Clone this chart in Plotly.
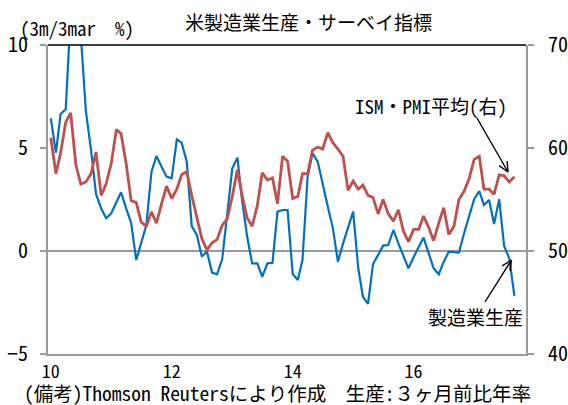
import math
import pandas as pd
import plotly.graph_objects as go

# ---------------- data ----------------
months = pd.date_range("2010-01-01", periods=93, freq="MS")

production = [
    6.44, 4.77, 6.65, 6.88, 11.5, 12.3, 10.5, 6.76, 4.9, 2.77,
    2.07, 1.59, 1.83, 2.39, 2.85, 2.07, 1.37, -0.44, 0.37, 1.26,
    3.85, 4.61, 4.09, 3.61, 3.53, 5.42, 5.26, 4.34, 1.21, 0.78,
    -0.27, -0.03, -1.05, -1.13, -0.40, 1.84, 4.01, 4.53, 2.48, 0.69,
    -0.60, -0.60, -1.25, -0.60, -0.57, 1.91, 1.99, 1.99, -1.12, -1.41,
    -0.44, 3.61, 4.74, 4.34, 3.20, 2.15, 1.10, -0.52, 0.37, 1.18,
    1.91, -0.84, -2.22, -2.57, -0.63, -0.19, 0.26, 0.29, 1.02, 0.37,
    -0.27, -0.84, -0.30, 0.20, 0.65, -0.10, -0.84, -1.13, -0.52, -0.03,
    -0.05, -0.08, 0.86, 1.70, 2.51, 2.91, 2.23, 2.48, 1.31, 2.51,
    0.24, -0.36, -2.18,
]

ism_pmi = [
    61.0, 57.5, 59.5, 62.5, 63.4, 58.4, 56.5, 56.7, 57.5, 59.6,
    55.4, 56.5, 58.5, 61.8, 61.4, 58.5, 54.9, 54.7, 52.8, 52.4,
    53.8, 52.7, 54.6, 56.3, 55.1, 56.0, 57.4, 57.7, 55.4, 53.2,
    51.2, 50.1, 50.8, 51.1, 52.5, 53.1, 55.3, 57.9, 55.4, 53.2,
    52.4, 54.4, 57.6, 56.9, 57.1, 54.6, 59.2, 58.7, 55.1, 55.3,
    57.5, 57.5, 59.8, 60.1, 59.9, 61.5, 60.5, 59.9, 59.2, 55.9,
    56.8, 56.0, 56.4, 55.4, 55.2, 53.6, 55.0, 53.6, 52.9, 54.0,
    51.9, 50.9, 52.1, 52.1, 53.4, 52.3, 51.0, 52.7, 54.2, 51.6,
    52.4, 55.0, 55.8, 57.0, 58.9, 59.2, 56.0, 56.0, 55.5, 57.4,
    57.3, 56.7, 57.2,
]

x_tick_vals = ["2010-01-01", "2012-01-01", "2014-01-01", "2016-01-01"]
x_tick_text = ["10", "12", "14", "16"]
left_ticks = [-5, 0, 5, 10]
right_ticks = [40, 50, 60, 70]

# ---------------- styling ----------------
FONT = "Noto Sans Mono CJK JP, Noto Sans CJK JP, sans-serif"
W, H = 568, 405
L, R, T, B = 48, 42, 45, 51
PW, PH = W - L - R, H - T - B
GRAY = "#9a9a9a"


def paper(px, py):
    return (px - L) / PW, (H - B - py) / PH


fig = go.Figure()
fig.add_trace(go.Scatter(x=months, y=production, mode="lines",
                         line=dict(color="#0070C0", width=2.2),
                         yaxis="y", name="製造業生産"))
fig.add_trace(go.Scatter(x=months, y=ism_pmi, mode="lines",
                         line=dict(color="#C0504D", width=2.8),
                         yaxis="y2", name="ISM・PMI平均(右)"))

shapes = [dict(type="line", xref="paper", yref="paper", x0=0, x1=1, y0=1, y1=1,
               line=dict(color="black", width=1.5))]


def arrow(tail, tip, head=11, ang=25):
    out = []
    x0, y0 = paper(*tail)
    x1, y1 = paper(*tip)
    out.append(dict(type="line", xref="paper", yref="paper", x0=x0, y0=y0, x1=x1, y1=y1,
                    line=dict(color="black", width=1.4)))
    dx, dy = tail[0] - tip[0], tail[1] - tip[1]
    base = math.atan2(dy, dx)
    for s in (-1, 1):
        a = base + s * math.radians(ang)
        hx, hy = tip[0] + head * math.cos(a), tip[1] + head * math.sin(a)
        px0, py0 = paper(hx, hy)
        out.append(dict(type="line", xref="paper", yref="paper", x0=px0, y0=py0, x1=x1, y1=y1,
                        line=dict(color="black", width=1.4)))
    return out


shapes += arrow((477, 118), (508, 172))
shapes += arrow((485, 302), (511.5, 260))

annotations = []


def text(s, px, py, size=19, xanchor="center"):
    x, y = paper(px, py)
    annotations.append(dict(text=s, x=x, y=y, xref="paper", yref="paper", showarrow=False,
                            xanchor=xanchor, yanchor="middle",
                            font=dict(family=FONT, size=size, color="black")))


text("米製造業生産・サーベイ指標", 308, 21)
text("(3m/3mar\u00a0 %)", 18, 27, xanchor="left")
text("ISM・PMI平均(右)", 431, 105)
text("製造業生産", 475.5, 316)
text("(備考)Thomson Reutersにより作成\u00a0\u00a0生産:３ヶ月前比年率", 277, 392, size=19.5)

fig.update_layout(
    width=W, height=H,
    margin=dict(l=L, r=R, t=T, b=B, pad=0, autoexpand=False),
    paper_bgcolor="white", plot_bgcolor="white",
    showlegend=False,
    font=dict(family=FONT, size=19, color="black"),
    xaxis=dict(range=["2009-12-15", "2017-11-10"], tickvals=x_tick_vals, ticktext=x_tick_text,
               showgrid=False, zeroline=False, showline=True, linecolor=GRAY, linewidth=1.5,
               ticks="", tickfont=dict(family=FONT, size=18), ticklabelstandoff=1,
               automargin=False),
    yaxis=dict(range=[-5, 10], tickvals=left_ticks, showgrid=False,
               zeroline=True, zerolinecolor=GRAY, zerolinewidth=2,
               showline=True, linecolor=GRAY, linewidth=2,
               ticks="outside", ticklen=6, tickcolor=GRAY, tickwidth=1.5,
               tickfont=dict(family=FONT, size=20), ticklabelstandoff=8, automargin=False),
    yaxis2=dict(range=[40, 70], tickvals=right_ticks, overlaying="y", side="right",
                showgrid=False, zeroline=False, showline=True, linecolor=GRAY, linewidth=2,
                ticks="outside", ticklen=6, tickcolor=GRAY, tickwidth=1.5,
                tickfont=dict(family=FONT, size=20), ticklabelstandoff=10, automargin=False),
    shapes=shapes,
    annotations=annotations,
)

fig.write_html("out.html", config={"displayModeBar": False},
               post_script="document.body.style.margin='0';document.body.style.overflow='hidden';")
